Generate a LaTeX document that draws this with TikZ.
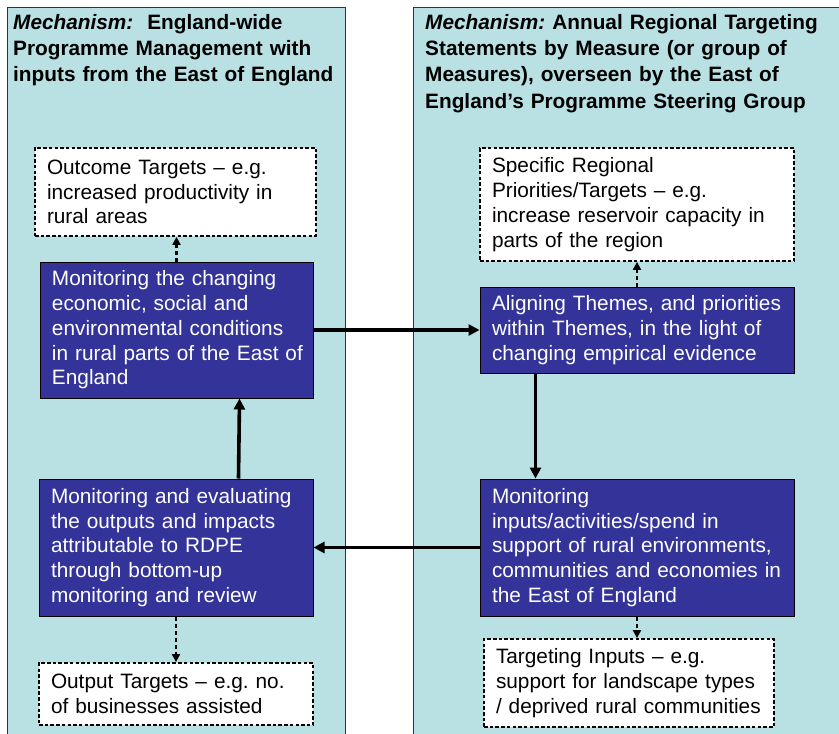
\documentclass[tikz,border=0pt]{standalone}
\usepackage{fontspec}
\setmainfont{Liberation Sans}
\usetikzlibrary{arrows.meta}
\frenchspacing
\definecolor{panelblue}{RGB}{185,224,227}
\definecolor{boxblue}{RGB}{51,51,153}
\newcommand{\bodyfnt}{\fontsize{20.8}{24.75}\selectfont}
\newcommand{\titlefnt}{\fontsize{20.8}{26.3}\selectfont\bfseries}
\begin{document}
\begin{tikzpicture}[x=1pt,y=-1pt,
  panel/.style={draw=black!80, line width=1pt, fill=panelblue},
  titletext/.style={anchor=north west, inner sep=0pt, align=left, font=\titlefnt},
  bluebox/.style={draw=black, line width=1pt, fill=boxblue, text=white, font=\bodyfnt, align=left, inner xsep=12pt, inner ysep=0pt},
  dashbox/.style={draw=black, line width=1.8pt, dash pattern=on 3.5pt off 2.2pt, fill=white, font=\bodyfnt, align=left, inner xsep=12pt, inner ysep=0pt},
  mainarrow/.style={draw=black, line width=3.6pt, -{Triangle[length=11pt,width=11pt]}},
  dasharrow/.style={draw=black, line width=2.2pt, dash pattern=on 4pt off 3pt, -{Triangle[length=8pt,width=8pt]}}]
\useasboundingbox (0,0) rectangle (839,734);
\fill[white] (0,0) rectangle (839,734);
% panels
\fill[panelblue] (7,7) rectangle (345,745);
\fill[panelblue] (413,7) rectangle (850,745);
\draw[panel, fill=none] (7,745) -- (7,7) -- (345,7) -- (345,745);
\draw[panel, fill=none] (413,745) -- (413,7) -- (850,7);
% titles
\node[titletext, text width=330pt] (lt) at (13,14) {\textit{Mechanism:}\ \ England-wide\\Programme Management with\\inputs from the East of England};
\node[titletext, text width=414pt] (rt) at (425,14) {\textit{Mechanism:} Annual Regional Targeting\\Statements by Measure (or group of\\Measures), overseen by the East of\\England’s Programme Steering Group};
% left column
\node[dashbox, text width=257pt, minimum height=88pt] (out) at (175.5,192) {Outcome Targets – e.g.\\increased productivity in\\rural areas};
\node[bluebox, text width=249pt, minimum height=136pt] (lb1) at (176.5,330) {Monitoring the changing\\economic, social and\\environmental conditions\\\mbox{in rural parts of the East of}\\England};
\node[bluebox, text width=250pt, minimum height=137pt] (lb2) at (176,547.5) {Monitoring and evaluating\\the outputs and impacts\\attributable to RDPE\\through bottom-up\\monitoring and review};
\node[dashbox, text width=250pt, minimum height=62pt] (outp) at (176,694) {Output Targets – e.g. no.\\of businesses assisted};
% right column
\node[dashbox, text width=290pt, minimum height=113pt] (spec) at (637,204.5) {Specific Regional\\Priorities/Targets – e.g.\\increase reservoir capacity in\\parts of the region};
\node[bluebox, text width=290pt, minimum height=86pt] (rb1) at (637,330) {Aligning Themes, and priorities\\within Themes, in the light of\\changing empirical evidence};
\node[bluebox, text width=290pt, minimum height=137pt] (rb2) at (637,547.5) {Monitoring\\inputs/activities/spend in\\support of rural environments,\\communities and economies in\\the East of England};
\node[dashbox, text width=266pt, minimum height=88pt] (tgt) at (629,683) {Targeting Inputs – e.g.\\support for landscape types\\\mbox{/ deprived rural communities}};
% connectors
\draw[mainarrow] (lb1.east) -- (rb1.west);
\draw[mainarrow] ([xshift=56pt]rb1.south west) -- ([xshift=56pt]rb2.north west);
\draw[mainarrow] (rb2.west) -- (lb2.east);
\draw[mainarrow] ([xshift=200pt]lb2.north west) -- ([xshift=200pt]lb1.south west);
\draw[dasharrow] (lb1.north) -- (lb1.north |- out.south);
\draw[dasharrow] (lb2.south) -- (lb2.south |- outp.north);
\draw[dasharrow] (rb1.north) -- (rb1.north |- spec.south);
\draw[dasharrow] (rb2.south) -- (rb2.south |- tgt.north);
\end{tikzpicture}
\end{document}
